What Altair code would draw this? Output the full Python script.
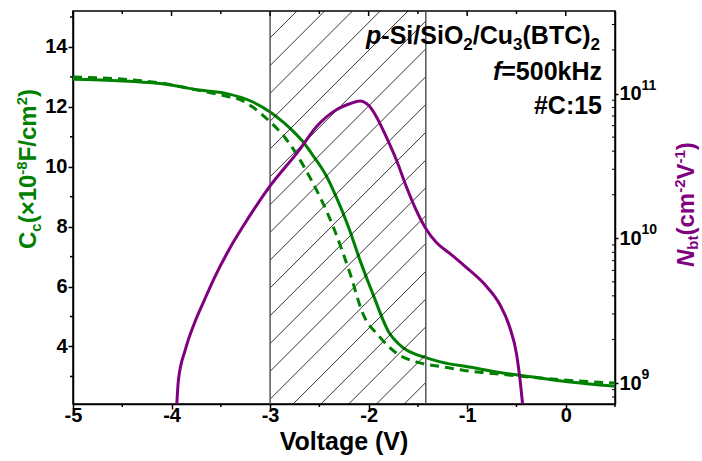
import altair as alt
import pandas as pd

FONT = "Liberation Sans"
GREEN = "#008000"
PURPLE = "#800080"

# plot area geometry (pixels) and domains
W, H = 542, 393
PAD = {"left": 73, "top": 11, "right": 87, "bottom": 57}
XDOM = [-5.0, 0.5]
CDOM = [2.08, 15.2]
NDOM = [7.16e8, 3.72e11]

# ---- data ----
cc_solid_v = [-5.0, -4.12, -3.72, -3.45, -3.18, -3.0, -2.87, -2.77, -2.67, -2.57, -2.43, -2.33,
              -2.2, -2.09, -1.96, -1.79, -1.70, -1.62, -1.52, -1.42, -1.18, -1.01, -0.67, -0.33,
              0.0, 0.5]
cc_solid = [12.92, 12.78, 12.56, 12.45, 12.17, 11.83, 11.5, 11.2, 10.85, 10.4, 9.7, 9.0,
            7.95, 6.9, 5.78, 4.45, 4.1, 3.89, 3.74, 3.63, 3.42, 3.33, 3.13, 2.98,
            2.83, 2.67]

cc_dash_v = [-5.0, -4.12, -3.72, -3.45, -3.31, -3.18, -3.0, -2.87, -2.6, -2.36, -2.19, -2.06,
             -1.89, -1.72, -1.50, -1.26, -1.03, -0.77, -0.05, 0.21, 0.5]
cc_dash = [13.0, 12.8, 12.55, 12.36, 12.25, 12.0, 11.5, 11.06, 9.67, 8.0, 6.45, 5.11,
           4.33, 3.78, 3.47, 3.33, 3.2, 3.11, 2.89, 2.83, 2.78]

nbt_v = [-3.95, -3.93, -3.86, -3.77, -3.67, -3.57, -3.41, -3.23, -3.0, -2.70, -2.53, -2.33,
         -2.19, -2.09, -2.0, -1.92, -1.82, -1.72, -1.62, -1.52, -1.42, -1.31, -1.18, -1.01,
         -0.81, -0.67, -0.57, -0.50, -0.46, -0.43]
nbt = [6.5e8, 1.05e9, 1.7e9, 2.57e9, 3.7e9, 5.25e9, 8.5e9, 1.35e10, 2.3e10, 4.1e10, 5.9e10, 7.7e10,
       8.5e10, 8.9e10, 8.3e10, 6.9e10, 5.0e10, 3.5e10, 2.3e10, 1.58e10, 1.17e10, 9.3e9, 7.9e9, 6.3e9,
       4.7e9, 3.5e9, 2.45e9, 1.6e9, 1.0e9, 6.3e8]

band = [-3.0, -1.42]
x_major = [-5, -4, -3, -2, -1, 0]
x_minor = [-4.5, -3.5, -2.5, -1.5, -0.5, 0.5]
c_major = [4, 6, 8, 10, 12, 14]
c_minor = [3, 5, 7, 9, 11, 13, 15]
n_major = [1e9, 1e10, 1e11]
n_exp = ["9", "10", "11"]
n_minor = [8e8, 9e8, 2e9, 3e9, 4e9, 5e9, 6e9, 7e9, 8e9, 9e9,
           2e10, 3e10, 4e10, 5e10, 6e10, 7e10, 8e10, 9e10, 2e11, 3e11]

# ---- scales / axes ----
xs = alt.Scale(domain=XDOM, nice=False, zero=False)
cs = alt.Scale(domain=CDOM, nice=False, zero=False)
ns = alt.Scale(type="log", domain=NDOM, nice=False)

common_axis = dict(grid=False, domainColor="black", domainWidth=1.5,
                   tickColor="black", tickWidth=1.5, labelFont=FONT, labelFontSize=20,
                   labelFontWeight="bold", labelColor="black", labelOverlap=False)

xaxis = alt.Axis(values=x_major, labelExpr="toString(datum.value)", tickSize=5,
                 labelPadding=-4, labelFlush=False, title="", **common_axis)
caxis = alt.Axis(values=c_major, orient="left", labelExpr="toString(datum.value)",
                 tickSize=5, labelPadding=1, title="", **common_axis)
naxis = alt.Axis(values=n_major, orient="right", labelExpr="'10'", tickSize=3,
                 labelPadding=1, title="", **common_axis)

# ---- text helpers ----
WID = {' ': 278, '#': 556, '(': 333, ')': 333, '-': 333, '/': 278, ':': 333, '=': 584,
       '×': 584, 'B': 722, 'C': 722, 'F': 611, 'H': 722, 'N': 722, 'O': 778, 'S': 667,
       'T': 611, 'V': 667, 'b': 611, 'c': 556, 'f': 333, 'i': 278, 'k': 556, 'm': 889,
       'p': 611, 't': 333, 'u': 611, 'z': 500, 'o': 611, 'l': 278, 'a': 556, 'g': 611,
       'e': 556}


def tw(s, size):
    return sum(WID.get(ch, 556) for ch in s) * size / 1000.0


one = alt.Data(values=[{"k": 0}])


def txt(s, x, y, size, color="black", italic=False, angle=0, align="left"):
    kw = dict(text=s, font=FONT, fontSize=size, fontWeight="bold", color=color,
              align=align, baseline="alphabetic")
    if italic:
        kw["fontStyle"] = "italic"
    if angle:
        kw["angle"] = angle
    return alt.Chart(one).mark_text(**kw).encode(
        x=alt.value(x - PAD["left"]), y=alt.value(y - PAD["top"]))


def hline(segs, x_right, y_base):
    total = sum(tw(s, sz) for s, sz, it, d in segs)
    x = x_right - total
    out = []
    for s, sz, it, d in segs:
        out.append(txt(s, x, y_base + d, sz, italic=it))
        x += tw(s, sz)
    return out


def vline(segs, x_base, y_bottom, color):
    out = []
    y = y_bottom
    for s, sz, it, d in segs:
        out.append(txt(s, x_base + d, y, sz, color=color, italic=it, angle=270))
        y -= tw(s, sz)
    return out


# ---- hatch (45 degree lines in pixel space) ----
px_v = W / (XDOM[1] - XDOM[0])
px_c = H / (CDOM[1] - CDOM[0])
slope = px_v / px_c
spacing = 27.8 / px_c
rows = []
for k in range(-40, 40):
    c0 = 12.45 + k * spacing
    v_a = max(band[0], band[0] + (CDOM[0] - c0) / slope)
    v_b = min(band[1], band[0] + (CDOM[1] - c0) / slope)
    if v_b > v_a:
        rows.append({"v": v_a, "c": c0 + slope * (v_a - band[0]),
                     "v2": v_b, "c2": c0 + slope * (v_b - band[0])})
hatch_df = pd.DataFrame(rows)

X = alt.X("v:Q", scale=xs)
YC = alt.Y("c:Q", scale=cs)
YN = alt.Y("n:Q", scale=ns)

hatch = alt.Chart(hatch_df).mark_rule(color="black", strokeWidth=0.8).encode(
    x=X, x2="v2:Q", y=YC, y2="c2:Q")

borders = alt.Chart(pd.DataFrame({"v": band})).mark_rule(color="#555555", strokeWidth=1.5).encode(
    x=X)

solid_df = pd.DataFrame({"v": cc_solid_v, "c": cc_solid})
dash_df = pd.DataFrame({"v": cc_dash_v, "c": cc_dash})

solid = alt.Chart(solid_df).mark_line(color=GREEN, strokeWidth=3, clip=True,
                                      interpolate="monotone").encode(
    x=alt.X("v:Q", scale=xs, axis=xaxis), y=alt.Y("c:Q", scale=cs, axis=caxis), order="v:Q")
dash = alt.Chart(dash_df).mark_line(color=GREEN, strokeWidth=3, strokeDash=[9, 6], clip=True,
                                    interpolate="monotone").encode(
    x=X, y=YC, order="v:Q")

# extra ticks (minor outward, top inward)
xmaj_df = pd.DataFrame({"v": x_major})
xmin_df = pd.DataFrame({"v": x_minor})
tick_style = dict(color="black", strokeWidth=1.5)
top_major = alt.Chart(xmaj_df).mark_rule(**tick_style).encode(
    x=X, y=alt.value(0), y2=alt.value(5))
top_minor = alt.Chart(xmin_df).mark_rule(**tick_style).encode(
    x=X, y=alt.value(0), y2=alt.value(3))
bot_minor = alt.Chart(xmin_df).mark_rule(**tick_style).encode(
    x=X, y=alt.value(H), y2=alt.value(H + 3))
left_minor = alt.Chart(pd.DataFrame({"c": c_minor})).transform_filter(
    f"datum.c <= {CDOM[1]}").mark_rule(**tick_style).encode(
    y=YC, x=alt.value(-3), x2=alt.value(0))

# text pieces
texts = []
texts += hline([("p", 25, True, 0), ("-Si/SiO", 25, False, 0), ("2", 17, False, 6),
                ("/Cu", 25, False, 0), ("3", 17, False, 6), ("(BTC)", 25, False, 0),
                ("2", 17, False, 6)], 600, 44)
texts += hline([("f", 25, True, 0), ("=500kHz", 25, False, 0)], 602, 80)
texts += hline([("#C:15", 25, False, 0)], 602, 114)
texts.append(txt("Voltage (V)", 344, 450, 25, align="center"))
texts += vline([("C", 24, False, 0), ("c", 15, False, 5), ("(×10", 24, False, 0),
                ("-8", 15, False, -9), ("F/cm", 24, False, 0), ("2", 15, False, -9),
                (")", 24, False, 0)], 36, 249, GREEN)
texts += vline([("N", 24, True, 0), ("bt", 15, False, 4), ("(cm", 24, False, 0),
                ("-2", 15, False, -9), ("V", 24, False, 0), ("-1", 15, False, -9),
                (")", 24, False, 0)], 694, 267, PURPLE)

left = alt.layer(solid, hatch, borders, top_major, top_minor, bot_minor, left_minor,
                 dash, *texts)

nbt_df = pd.DataFrame({"v": nbt_v, "n": nbt})
purple = alt.Chart(nbt_df).mark_line(color=PURPLE, strokeWidth=3, clip=True,
                                     interpolate="monotone").encode(
    x=X, y=alt.Y("n:Q", scale=ns, axis=naxis), order="v:Q")
minor = alt.Chart(pd.DataFrame({"n": n_minor})).mark_rule(color="black", strokeWidth=1).encode(
    y=YN, x=alt.value(W - 3), x2=alt.value(W))
exps = alt.Chart(pd.DataFrame({"n": n_major, "e": n_exp})).mark_text(
    font=FONT, fontSize=14, fontWeight="bold", color="black", align="left",
    baseline="middle", dy=-8).encode(
    y=YN, x=alt.value(W + 4 + 22.5), text="e:N")

right = alt.layer(purple, minor, exps)

chart = alt.layer(left, right).resolve_scale(y="independent").properties(
    width=W, height=H, padding=PAD, autosize=alt.AutoSizeParams(type="none"),
    background="white"
).configure_view(stroke="black", strokeWidth=1.5)

chart.save("out.html", embed_options={"renderer": "svg", "actions": False})
